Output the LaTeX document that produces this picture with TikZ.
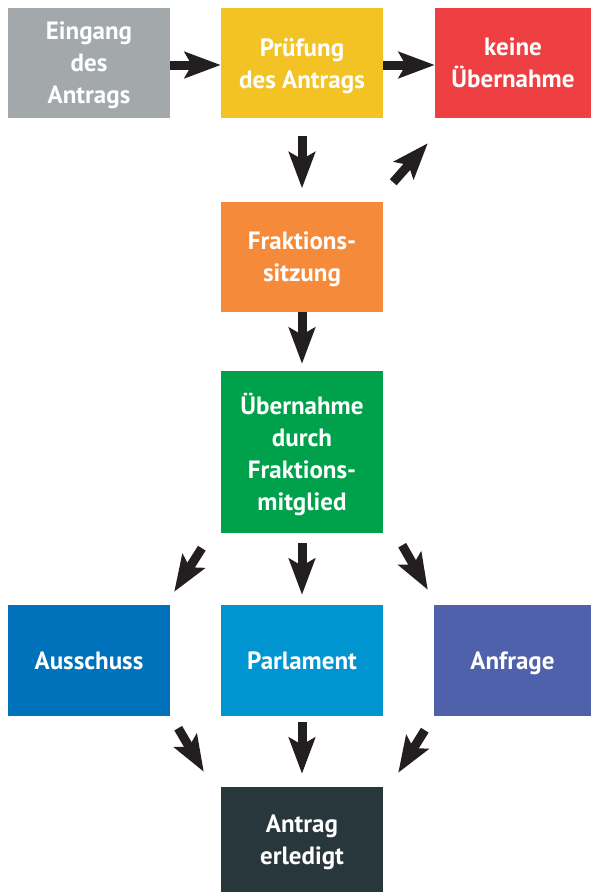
\documentclass[tikz,border=0pt]{standalone}
\usepackage{fontspec}
\setmainfont{PT Sans}
\usetikzlibrary{arrows.meta}
\definecolor{cgray}{HTML}{A3A8AB}
\definecolor{cyellow}{HTML}{F3C325}
\definecolor{cred}{HTML}{EE4043}
\definecolor{corange}{HTML}{F58B3A}
\definecolor{cgreen}{HTML}{00A14B}
\definecolor{cblueA}{HTML}{0071BB}
\definecolor{cblueB}{HTML}{0095D0}
\definecolor{cpurple}{HTML}{4F61AB}
\definecolor{cdark}{HTML}{28373B}
\definecolor{carrow}{HTML}{231F20}
\begin{document}
\begin{tikzpicture}[x=1pt,y=1pt,
  box/.style={rectangle, inner sep=0pt, minimum width=162pt, minimum height=110pt,
    text=white, align=center, text depth=0pt, font=\fontsize{25}{32}\selectfont\bfseries},
  arr/.style={draw=carrow, line width=9pt,
    -{Stealth[length=36pt,width=26pt,inset=7pt]}}]
\useasboundingbox (0,0) rectangle (591,-892);
\node[box, fill=cgray] (eing) at (89,-63) {Eingang\\des\\Antrags};
\node[box, fill=cyellow] (pruef) at (302,-63) {Prüfung\\des Antrags};
\node[box, fill=cred, minimum width=156pt] (keine) at (513,-63) {keine\\Übernahme};
\node[box, fill=corange] (frak) at (302,-256.5) {Fraktions-\\sitzung};
\node[box, fill=cgreen, minimum height=162pt] (uebern) at (302,-452) {Übernahme\\durch\\Fraktions-\\mitglied};
\node[box, fill=cblueA, minimum height=111pt] (aussch) at (89,-660.5) {Ausschuss};
\node[box, fill=cblueB, minimum height=111pt] (parl) at (302,-660.5) {Parlament};
\node[box, fill=cpurple, minimum height=111pt, minimum width=157pt] (anfr) at (512.5,-660.5) {Anfrage};
\node[box, fill=cdark, minimum height=105pt] (erl) at (302,-839.5) {Antrag\\erledigt};
% arrows
\draw[arr] ([yshift=-2pt]eing.east) -- ([yshift=-2pt]pruef.west);
\draw[arr] ([yshift=-2pt]pruef.east) -- ([yshift=-2pt]keine.west);
\draw[arr, shorten <=18pt, shorten >=13pt] (pruef.south) -- (frak.north);
\draw[arr] ([shift={(10,19)}]frak.north east) -- ([shift={(-7,-25)}]keine.south west);
\draw[arr, shorten >=7pt] (frak.south) -- (uebern.north);
\draw[arr, shorten <=10pt, shorten >=10pt] (uebern.south) -- (parl.north);
\draw[arr] ([shift={(-19,-15)}]uebern.south west) -- ([shift={(4,13)}]aussch.north east);
\draw[arr] ([shift={(19,-12)}]uebern.south east) -- ([shift={(-6,15)}]anfr.north west);
\draw[arr, shorten <=6pt, shorten >=13pt] (parl.south) -- (erl.north);
\draw[arr] ([shift={(8,-12)}]aussch.south east) -- ([shift={(-17,15)}]erl.north west);
\draw[arr] ([shift={(-9,-14)}]anfr.south west) -- ([shift={(15,14)}]erl.north east);
\end{tikzpicture}
\end{document}
